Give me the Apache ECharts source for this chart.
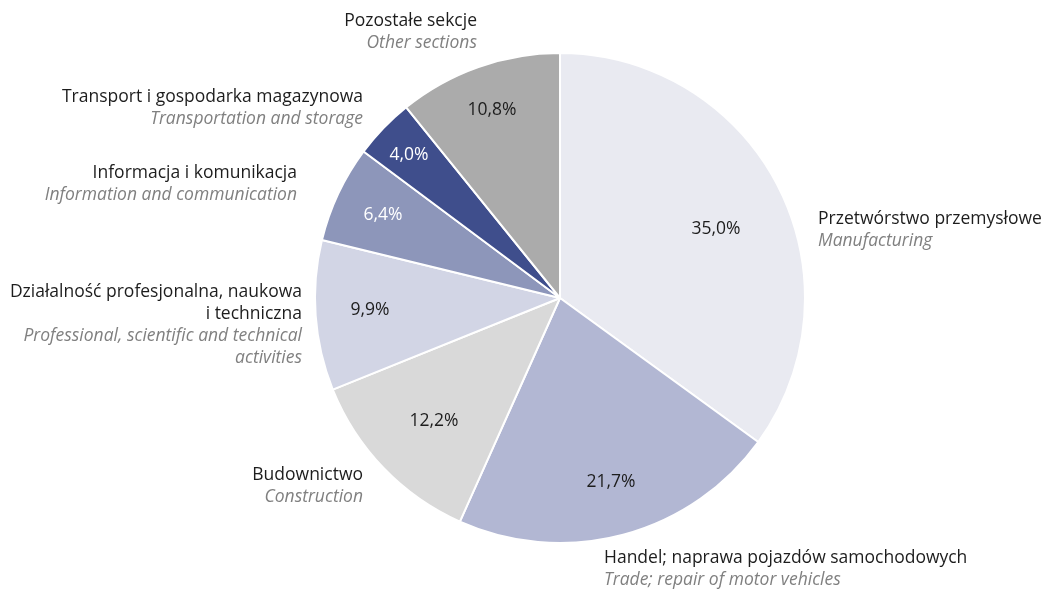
<!DOCTYPE html>
<html><head><meta charset="utf-8">
<script src="https://cdn.jsdelivr.net/npm/echarts@6/dist/echarts.min.js"></script>
<style>html,body{margin:0;padding:0;background:#fff}#c{width:1046px;height:592px}</style>
</head><body><div id="c"></div>
<script>
const namesPl = ['Przetwórstwo przemysłowe','Handel; naprawa pojazdów samochodowych','Budownictwo','Działalność profesjonalna, naukowa\ni techniczna','Informacja i komunikacja','Transport i gospodarka magazynowa','Pozostałe sekcje'];
const namesEn = ['Manufacturing','Trade; repair of motor vehicles','Construction','Professional, scientific and technical\nactivities','Information and communication','Transportation and storage','Other sections'];
const values = [35.0, 21.7, 12.2, 9.9, 6.4, 4.0, 10.8];

const colors = ['#e9eaf1','#b2b7d3','#d9d9d9','#d2d5e5','#8d96ba','#3f4e8c','#ababab'];
const innerTextColors = ['#1d1d1d','#1d1d1d','#1d1d1d','#1d1d1d','#ffffff','#ffffff','#1d1d1d'];
// label placement (layout only)
const innerPos = [[716,229],[611,482],[434,421],[370,310],[383,215],[409,155],[492,110]];
const outerPos = [[818,208,'left'],[604,547,'left'],[363,464,'right'],[302,281,'right'],[297,162,'right'],[363,86,'right'],[477,10,'right']];

const FONT = '"Open Sans", Lato, sans-serif';
const FS = 17.5;
const fmtNum = v => v.toFixed(1).replace('.', ',') + '%';

const dataInner = values.map((v,i)=>({
  name: namesPl[i], value: v,
  itemStyle:{color: colors[i]},
  label:{color: innerTextColors[i]}
}));
const dataOuter = values.map((v,i)=>({name: namesPl[i], value: v}));

const chart = echarts.init(document.getElementById('c'));
chart.setOption({
  animation:false,
  series:[
    {
      type:'pie', center:[560,298], radius:[0,245], startAngle:90, clockwise:true,
      silent:true, z:1,
      itemStyle:{color:'rgba(0,0,0,0)', borderWidth:0},
      label:{show:true, position:'outside', fontFamily:FONT, overflow:'none', alignTo:'none',
        formatter: p => {
          const i = p.dataIndex;
          const a = namesPl[i].split('\n').map(s=>'{a|'+s+'}');
          const b = namesEn[i].split('\n').map(s=>'{b|'+s+'}');
          return a.concat(b).join('\n');
        },
        rich:{
          a:{fontFamily:FONT, fontSize:FS, color:'#1d1d1d', lineHeight:22},
          b:{fontFamily:FONT, fontSize:FS, fontStyle:'italic', color:'#808080', lineHeight:22}
        }
      },
      labelLine:{show:false},
      labelLayout: p => ({x: outerPos[p.dataIndex][0], y: outerPos[p.dataIndex][1], align: outerPos[p.dataIndex][2], verticalAlign:'top'}),
      data: dataOuter
    },
    {
      type:'pie', center:[560,298], radius:[0,245], startAngle:90, clockwise:true,
      silent:true, z:2,
      itemStyle:{borderColor:'#fff', borderWidth:2},
      label:{show:true, position:'inside', fontFamily:FONT, fontSize:FS, overflow:'none',
        formatter: p => fmtNum(p.value)},
      labelLine:{show:false},
      labelLayout: p => ({x: innerPos[p.dataIndex][0], y: innerPos[p.dataIndex][1], align:'center', verticalAlign:'middle'}),
      data: dataInner
    }
  ]
});
</script></body></html>
